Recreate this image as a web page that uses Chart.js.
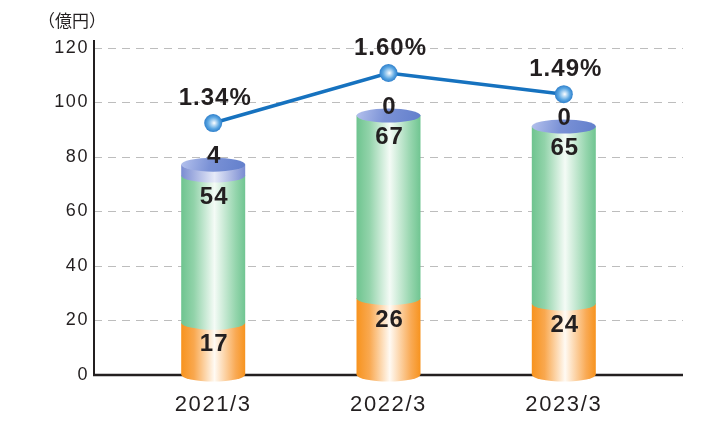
<!DOCTYPE html>
<html>
<head>
<meta charset="utf-8">
<script src="https://cdn.jsdelivr.net/npm/chart.js@4.4.0/dist/chart.umd.min.js"></script>
<style>
html, body { margin: 0; padding: 0; background: #fff; }
#myChart { display: block; }
</style>
</head>
<body>
<canvas id="myChart" width="716" height="421"></canvas>
<script>
const years = ["2021/3", "2022/3", "2023/3"];
const orangeVals = [17, 26, 24];
const greenVals = [54, 67, 65];
const blueVals = [4, 0, 0];
const ratioVals = [1.34, 1.60, 1.49];
const yTicks = [0, 20, 40, 60, 80, 100, 120];

const textColor = "#231f20";
const fontFam = "'Liberation Sans', Arial, sans-serif";
const lift = 6;   // 3D offset of the segment borders
const ry = 7;     // ellipse height of the cylinders

const toPoints = arr => arr.map((v, i) => ({ x: i + 1, y: v }));

// fill of one cylinder side, horizontal gradient
const sideGrad = (ctx, l, r, stops) => {
	let g = ctx.createLinearGradient(l, 0, r, 0);
	stops.forEach(s => g.addColorStop(s[0], s[1]));
	return g;
}
const orangeStops = [[0, "#f7931e"], [0.2, "#f9a84f"], [0.52, "#fffaf3"], [0.85, "#f9aa55"], [1, "#f7931e"]];
const greenStops = [[0, "#6ec48f"], [0.2, "#92d3aa"], [0.52, "#f4fbf6"], [0.85, "#95d5ad"], [1, "#70c591"]];
const blueStops = [[0, "#7a8cd2"], [0.52, "#e6eaf8"], [1, "#7a8cd2"]];

const sphere = context => {
	const chart = context.chart;
	if (!chart.scales || !chart.scales.y1 || context.raw == null) return "#3d8fd8";
	const x = chart.scales.x.getPixelForValue(context.raw.x);
	const y = chart.scales.y1.getPixelForValue(context.raw.y);
	if (!isFinite(x) || !isFinite(y)) return "#3d8fd8";
	let g = chart.ctx.createRadialGradient(x + 1, y, 0, x, y, 9);
	g.addColorStop(0, "#ffffff");
	g.addColorStop(0.25, "#bcdcf5");
	g.addColorStop(0.65, "#5aa6e2");
	g.addColorStop(1, "#2e7fcb");
	return g;
}

const cylinders = {
	id: "cylinders",
	beforeDraw(chart) {
		chart.ctx.letterSpacing = "1.6px";
	},
	beforeDatasetsDraw(chart) {
		const ctx = chart.ctx;
		const { left, right, bottom, top } = chart.chartArea;
		ctx.save();
		ctx.letterSpacing = "0px";
		// axis lines
		ctx.strokeStyle = textColor;
		ctx.lineWidth = 2;
		ctx.beginPath();
		ctx.moveTo(left, top - 8);
		ctx.lineTo(left, bottom + 1);
		ctx.stroke();
		ctx.lineWidth = 2.5;
		ctx.beginPath();
		ctx.moveTo(left - 1, bottom);
		ctx.lineTo(right, bottom);
		ctx.stroke();

		// unit
		ctx.fillStyle = textColor;
		ctx.font = "17px 'Noto Sans CJK JP'";
		ctx.textAlign = "left";
		ctx.textBaseline = "middle";
		ctx.fillText("（億円）", 38, 21);

		const segs = [orangeVals, greenVals, blueVals];
		const stops = [orangeStops, greenStops, blueStops];
		const metas = [1, 2, 3].map(i => chart.getDatasetMeta(i));
		years.forEach((_, i) => {
			const first = metas[0].data[i];
			const half = first.width / 2;
			const cx = first.x;
			const l = cx - half, r = cx + half;
			let capY = null;
			segs.forEach((vals, k) => {
				const el = metas[k].data[i];
				if (!vals[i]) return;
				const t = el.y - lift;
				const b = k == 0 ? el.base : el.base - lift;
				ctx.beginPath();
				ctx.moveTo(l, t);
				ctx.lineTo(l, b);
				ctx.ellipse(cx, b, half, ry, 0, Math.PI, 0, true);
				ctx.lineTo(r, t);
				ctx.closePath();
				ctx.fillStyle = sideGrad(ctx, l, r, stops[k]);
				ctx.fill();
				capY = t;
			});
			// top face
			let g = ctx.createLinearGradient(l, capY - ry, r, capY + ry);
			g.addColorStop(0, "#b4c1ed");
			g.addColorStop(0.45, "#7b92d6");
			g.addColorStop(1, "#627fcc");
			ctx.beginPath();
			ctx.ellipse(cx, capY, half, ry, 0, 0, Math.PI * 2);
			ctx.fillStyle = g;
			ctx.fill();
		});
		ctx.restore();
	},
	afterDatasetsDraw(chart) {
		const ctx = chart.ctx;
		const metas = [1, 2, 3].map(i => chart.getDatasetMeta(i));
		const lineMeta = chart.getDatasetMeta(0);
		ctx.save();
		ctx.fillStyle = textColor;
		ctx.textAlign = "center";
		ctx.textBaseline = "middle";
		ctx.font = "bold 24px " + fontFam;
		ctx.letterSpacing = "1px";
		years.forEach((_, i) => {
			const o = metas[0].data[i], gr = metas[1].data[i], bl = metas[2].data[i];
			ctx.fillText(String(orangeVals[i]), o.x + 1, o.y - lift + 22);
			ctx.fillText(String(greenVals[i]), gr.x + 1, gr.y - lift + 22);
			ctx.fillText(String(blueVals[i]), bl.x + 1, bl.y - lift - 8);
			const p = lineMeta.data[i];
			ctx.fillText(ratioVals[i].toFixed(2) + "%", p.x + 2, p.y - 25);
		});
		ctx.restore();
	}
}

const barSet = (label, vals) => ({
	label: label,
	data: toPoints(vals),
	backgroundColor: "rgba(0,0,0,0)",
	borderWidth: 0,
	barThickness: 64,
	stack: "s",
	yAxisID: "y",
	order: 2
});

let chart = new Chart(document.getElementById("myChart"), {
	type: "bar",
	data: {
		datasets: [
			{
				type: "line",
				label: "ratio",
				data: toPoints(ratioVals),
				yAxisID: "y1",
				borderColor: "#1672bf",
				borderWidth: 3.5,
				pointRadius: 9,
				pointHoverRadius: 9,
				pointBorderWidth: 0,
				pointBackgroundColor: sphere,
				order: 0
			},
			barSet("orange", orangeVals),
			barSet("green", greenVals),
			barSet("blue", blueVals)
		]
	},
	options: {
		responsive: false,
		animation: false,
		devicePixelRatio: 1,
		layout: { padding: { top: 48, right: 33, left: 0, bottom: 0 } },
		plugins: { legend: { display: false }, tooltip: { enabled: false } },
		scales: {
			x: {
				type: "linear",
				min: 0.32,
				max: 3.68,
				offset: false,
				stacked: true,
				grid: { display: false, drawTicks: false },
				border: { display: false },
				afterBuildTicks: s => { s.ticks = years.map((_, i) => ({ value: i + 1 })); },
				ticks: {
					callback: v => years[v - 1] || "",
					font: { size: 22, family: fontFam },
					color: textColor,
					padding: 17,
					maxRotation: 0
				},
				afterFit: s => { s.height = 46; }
			},
			y: {
				min: 0,
				max: 120,
				stacked: true,
				afterBuildTicks: s => { s.ticks = yTicks.map(v => ({ value: v })); },
				grid: { color: "#bdbdbd", lineWidth: 1, drawTicks: false },
				border: { display: false, dash: [8, 6] },
				ticks: {
					font: { size: 18, family: fontFam },
					color: textColor,
					padding: 5
				},
				afterFit: s => { s.width = 94; }
			},
			y1: { display: false, min: 0.03, max: 1.73 }
		}
	},
	plugins: [cylinders]
});
</script>
</body>
</html>
